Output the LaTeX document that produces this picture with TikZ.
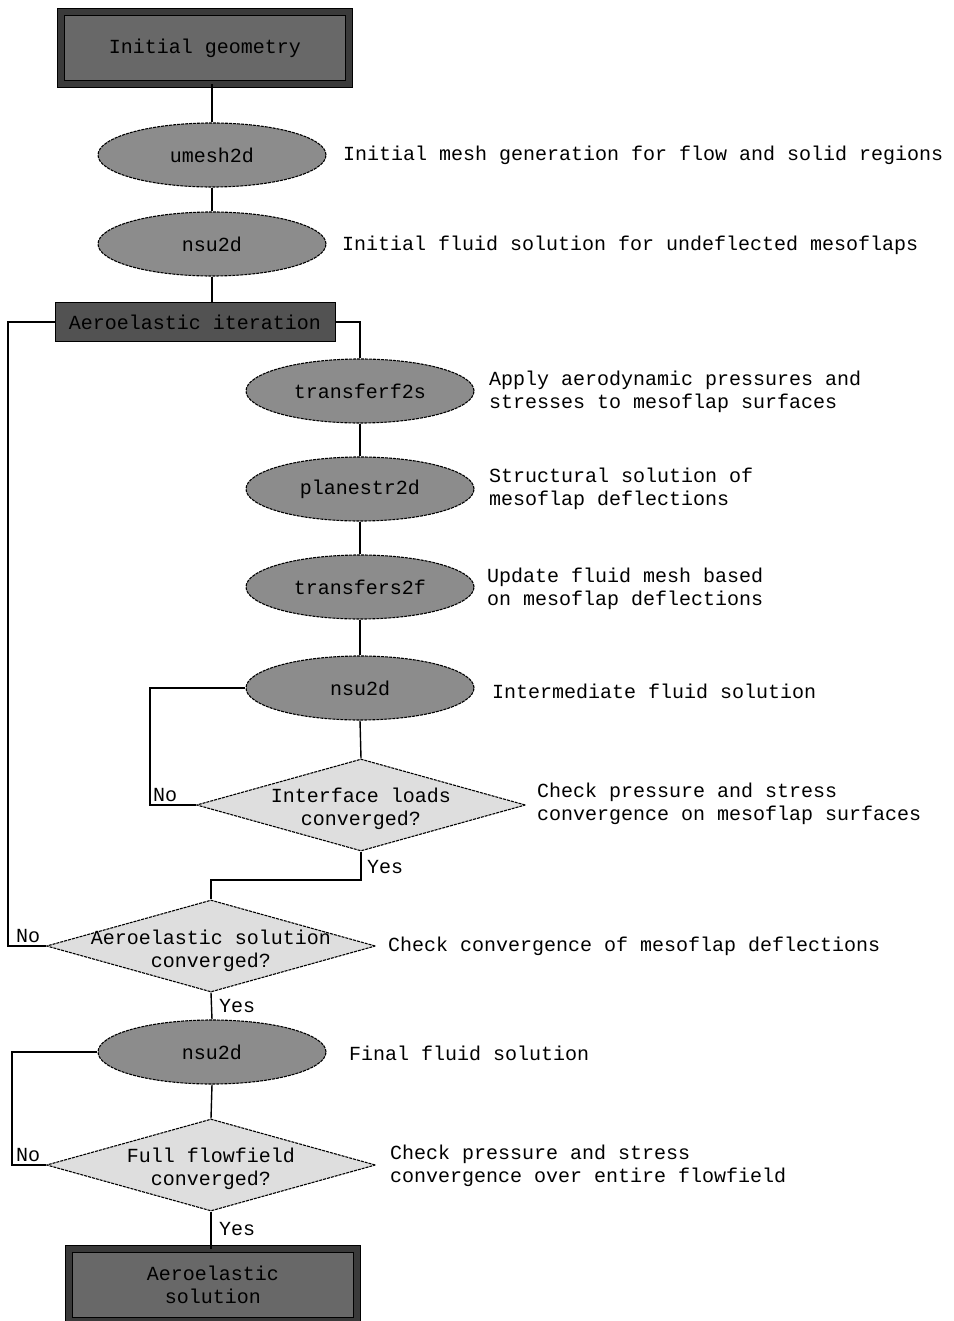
\documentclass[tikz,border=0pt]{standalone}
\usepackage{fontspec}
\setmonofont{Liberation Mono}
\usetikzlibrary{shapes.geometric}
\definecolor{framegray}{RGB}{58,58,58}
\definecolor{termgray}{RGB}{104,104,104}
\definecolor{itergray}{RGB}{82,82,82}
\definecolor{stepgray}{RGB}{140,140,140}
\definecolor{askgray}{RGB}{222,222,222}

\begin{document}
\begin{tikzpicture}[x=1pt,y=-1pt,line join=miter,font=\fontsize{20}{23}\selectfont\ttfamily,
  terminal/.style={rectangle,draw=black,line width=1pt,double=framegray,double distance=6pt,
    fill=termgray,minimum width=288pt,minimum height=72pt,align=center},
  loopbox/.style={rectangle,draw=black,line width=1pt,fill=itergray,minimum width=280pt,
    minimum height=38pt,inner sep=0pt},
  program/.style={ellipse,draw=black,line width=1.1pt,dash pattern=on 3pt off 1pt,fill=stepgray,
    minimum width=228pt,minimum height=64pt,inner sep=0pt},
  decision/.style={diamond,draw=black,line width=1.1pt,dash pattern=on 3pt off 1pt,fill=askgray,
    minimum width=329pt,minimum height=92pt,inner sep=0pt},
  asktext/.style={align=center,inner sep=0pt},
  note/.style={anchor=west,align=left,inner sep=0pt},
  answer/.style={anchor=west,inner sep=0pt},
  link/.style={line width=1.4pt}]
  \useasboundingbox (0,0) rectangle (953,1321);

  \node[terminal] (geo) at (205,48) {Initial geometry};
  \node[program] (umesh) at (212,155) {umesh2d};
  \node[program] (nsuA) at (212,244) {nsu2d};
  \node[loopbox] (iter) at (195,322) {Aeroelastic iteration};
  \node[program] (fts) at (360,391) {transferf2s};
  \node[program] (pstr) at (360,489) {planestr2d};
  \node[program] (stf) at (360,587) {transfers2f};
  \node[program] (nsuB) at (360,688) {nsu2d};
  \node[decision] (convA) at (361,805) {};
  \node[asktext] (convAtxt) at (361,809) {Interface loads\\converged?};
  \node[decision] (convB) at (211,946) {};
  \node[asktext] (convBtxt) at (211,951) {Aeroelastic solution\\converged?};
  \node[program] (nsuC) at (212,1052) {nsu2d};
  \node[decision] (convC) at (211,1165) {};
  \node[asktext] (convCtxt) at (211,1169) {Full flowfield\\converged?};
  \node[terminal] (sol) at (213,1285) {Aeroelastic\\solution};

  \node[note] (nUmesh) at (343,155) {Initial mesh generation for flow and solid regions};
  \node[note] (nNsuA) at (342,245) {Initial fluid solution for undeflected mesoflaps};
  \node[note] (nFts) at (489,392) {Apply aerodynamic pressures and\\stresses to mesoflap surfaces};
  \node[note] (nPstr) at (489,489) {Structural solution of\\mesoflap deflections};
  \node[note] (nStf) at (487,589) {Update fluid mesh based\\on mesoflap deflections};
  \node[note] (nNsuB) at (492,691) {Intermediate fluid solution};
  \node[note] (nConvA) at (537,804) {Check pressure and stress\\convergence on mesoflap surfaces};
  \node[note] (nConvB) at (388,946) {Check convergence of mesoflap deflections};
  \node[note] (nNsuC) at (349,1053) {Final fluid solution};
  \node[note] (nConvC) at (390,1166) {Check pressure and stress\\convergence over entire flowfield};

  \node[answer] (noA) at (153,795) {No};
  \node[answer] (yesA) at (367,867) {Yes};
  \node[answer] (noB) at (16,936) {No};
  \node[answer] (yesB) at (219,1006) {Yes};
  \node[answer] (noC) at (16,1155) {No};
  \node[answer] (yesC) at (219,1229) {Yes};

  \coordinate (loopA) at (150,805);
  \coordinate (loopB) at (8,946);
  \coordinate (loopC) at (12,1165);
  \coordinate (joinA) at (290,880);

  \begin{scope}[link]
    \draw (umesh.north |- geo.south) -- (umesh.north);
    \draw (umesh) -- (nsuA);
    \draw (nsuA.south) -- (nsuA.south |- iter.north);
    \draw (iter.east) -| (fts.north);
    \draw (fts) -- (pstr);
    \draw (pstr) -- (stf);
    \draw (stf) -- (nsuB);
    \draw (nsuB.south) -- (convA.north);
    \draw (convA.west) -- (loopA) |- (nsuB.west);
    \draw (convA.south) |- (joinA) -| (convB.north);
    \draw (convB.west) -- (loopB) |- (iter.west);
    \draw (convB.south) -- (nsuC.north);
    \draw (nsuC.south) -- (convC.north);
    \draw (convC.west) -- (loopC) |- (nsuC.west);
    \draw (convC.south) -- (convC.south |- sol.north);
  \end{scope}
\end{tikzpicture}
\end{document}
